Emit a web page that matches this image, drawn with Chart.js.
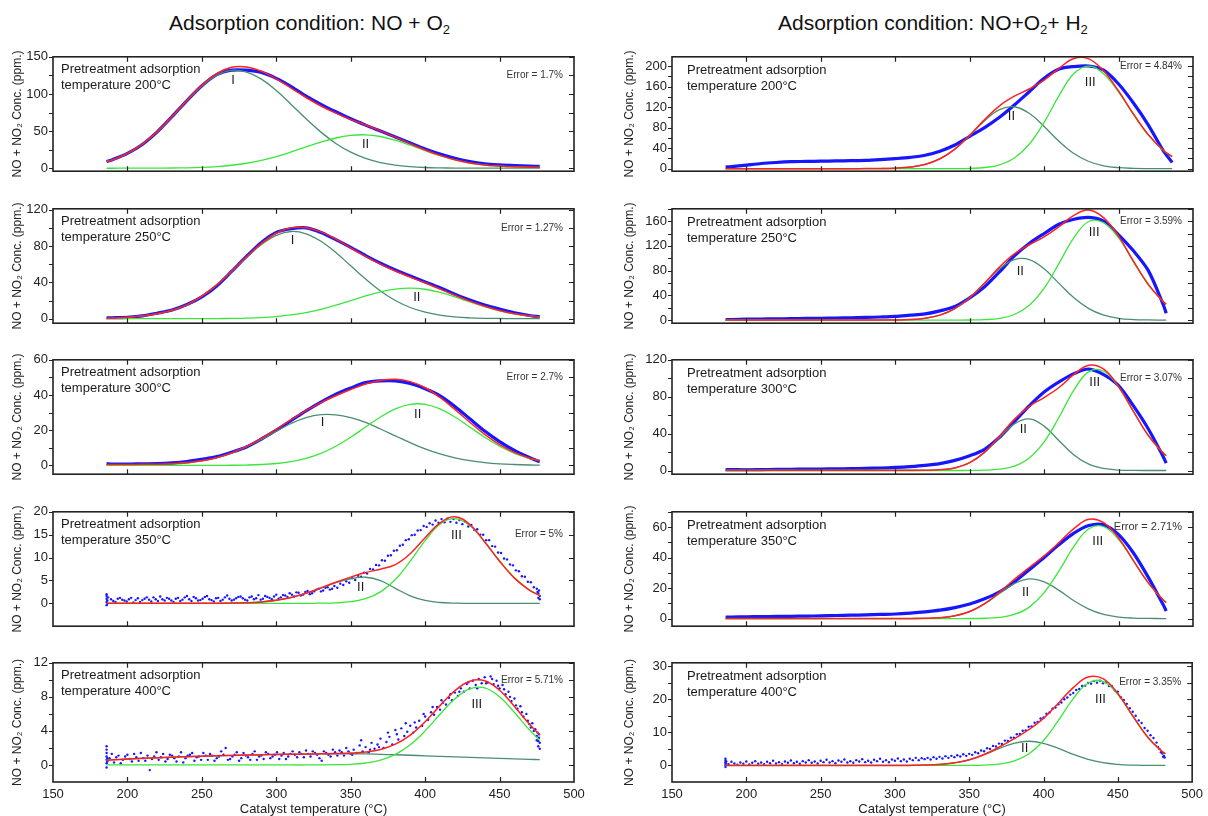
<!DOCTYPE html>
<html>
<head>
<meta charset="utf-8">
<title>NO + NO2 desorption - peak fitting</title>
<script src="https://cdn.jsdelivr.net/npm/chart.js@4.4.1/dist/chart.umd.min.js"></script>
<style>
  html, body { margin: 0; padding: 0; background: #fff; }
  body { width: 1208px; height: 816px; position: relative; overflow: hidden;
         font-family: "Liberation Sans", Arial, sans-serif; color: #111; }
  .col-title { position: absolute; top: 11px; font-size: 21px; line-height: 23px; white-space: nowrap; }
  .col-title sub { font-size: 13px; vertical-align: -4px; line-height: 0; }
  .panel { position: absolute; }
</style>
</head>
<body>
<div class="col-title" style="left:169px">Adsorption condition: NO + O<sub>2</sub></div>
<div class="col-title" style="left:778px">Adsorption condition: NO+O<sub>2</sub>+ H<sub>2</sub></div>
<script>
// temperature grids (°C)
const tempL = [186,190,200,210,220,230,240,250,260,270,280,290,300,310,320,330,340,350,360,370,380,390,400,410,420,430,440,450,460,470,477];
const tempR = [186,190,200,210,220,230,240,250,260,270,280,290,300,310,320,330,340,350,360,370,380,390,400,410,420,430,440,450,460,470,480,482];
const tempR1 = [186,190,200,210,220,230,240,250,260,270,280,290,300,310,320,330,340,350,360,370,380,390,400,410,420,430,440,450,460,470,480,486];
const xTicks = [150, 200, 250, 300, 350, 400, 450, 500];

// ---- NO + O2, 200°C
const p200L_meas = [9,11.5,20,32,49,69.5,91,111,126,132,132,129,121,110,97,86,76,66.5,58,50,42,34,26,19,13.5,9,6,4.5,3.5,2.8,2.5];
const p200L_fit = [9.0,11.3,19.9,32.5,49.3,69.6,91.4,111.8,127.4,135.8,136.2,130.5,120.2,107.8,95.2,83.8,74.1,65.7,58.2,50.3,41.8,33.1,24.6,17.3,11.3,7.0,4.3,2.9,1.9,1.3,1.1];
const p200L_I = [9.0,11.3,19.9,32.4,49.2,69.3,90.8,110.6,125.2,131.8,129.5,119.9,104.5,85.9,66.5,48.6,33.4,21.6,13.2,7.6,4.1,2.1,1.0,0.5,0.2,0.1,0.1,0.1,0.1,0.1,0.1];
const p200L_II = [0,0,0.02,0.05,0.12,0.3,0.58,1.17,2.24,4.0,6.7,10.6,15.7,21.9,28.7,35.2,40.7,44.1,45.0,42.7,37.7,31.0,23.6,16.8,11.1,6.9,4.2,2.8,1.8,1.2,1.0];

// ---- NO + O2, 250°C
const p250L_meas = [1,1,1.5,3,6,9.5,15.5,24,36,52,68.5,84,95,99,100,95,87,78.5,69.5,61,53.5,47,40.5,34,27,20.5,15,10.5,6.5,3.5,2];
const p250L_fit = [0.3,0.5,1.5,3.0,5.5,9.3,15.2,24.8,37.2,52.3,68.2,83.0,94.1,100.1,100.2,95.6,87.6,78.0,68.6,60.0,52.5,45.9,39.5,32.7,25.9,19.3,13.6,8.9,5.4,3.0,2.0];
const p250L_I = [0.3,0.5,1.5,3.0,5.5,9.3,15.2,24.7,37.1,52.0,67.6,81.7,91.8,96,93.5,85.3,72.8,58.2,43.6,30.5,20.0,12.3,7.1,3.8,1.9,0.9,0.4,0.2,0.1,0,0];
const p250L_II = [0,0,0,0,0,0,0.02,0.05,0.13,0.3,0.63,1.25,2.34,4.1,6.7,10.3,14.8,19.8,25.0,29.5,32.5,33.6,32.4,28.9,24.0,18.4,13.2,8.7,5.3,3.0,2.0];

// ---- NO + O2, 300°C
const p300L_meas = [1,0.8,0.7,0.9,1.0,1.4,2.2,3.5,5.0,7.5,10.5,15,20,25.5,31,36,40.5,44,47,48,48,46.5,43.5,39.5,33.5,26.5,19.5,13.5,8.5,4.5,2];
const p300L_fit = [0.5,0.5,0.5,0.6,0.7,1.0,1.6,2.6,4.4,7.1,10.8,15.3,20.5,26.0,31.1,35.7,39.6,43.1,46.2,48.2,48.9,47.6,44.1,38.6,31.8,24.5,17.6,11.8,7.4,4.2,2.8];
const p300L_I = [0.02,0.03,0.06,0.14,0.32,0.69,1.36,2.52,4.36,7.0,10.6,14.8,19.4,23.8,27.1,28.8,28.7,27.1,24.4,20.7,16.8,12.9,9.4,6.5,4.3,2.7,1.6,0.9,0.5,0.24,0.15];
const p300L_II = [0,0,0,0,0,0,0,0.01,0.03,0.08,0.21,0.5,1.08,2.16,4.0,6.85,10.9,16.0,21.8,27.5,32.1,34.7,34.7,32.1,27.5,21.8,16.0,10.9,6.85,4.0,2.6];

// ---- NO + O2, 350°C  (measured points: [T, ppm])
const p350L_meas = [
  [186,-0.4],[186,0.3],[186,1.0],[186,1.6],[186,2.0],[186.5,0.6],[186.5,-0.1],[187,1.3],
  [189,0.9],[192,0.3],[195,1.2],[198,0.6],[201,0.9],[204,0.2],[207,1.1],[210,0.7],[213,1.3],[216,0.4],
  [219,0.9],[222,1.5],[225,0.6],[228,1.0],[231,0.3],[234,1.2],[237,0.8],[240,1.6],[243,0.5],[246,1.1],
  [249,0.7],[252,1.4],[255,0.9],[258,0.4],[261,1.2],[264,0.8],[267,1.7],[270,0.6],[273,1.1],[276,1.5],
  [279,0.8],[282,1.3],[285,0.9],[288,1.8],[291,1.0],[294,1.4],[297,0.9],[300,1.9],[303,1.3],[306,1.7],
  [309,2.2],[312,1.5],[315,2.3],[318,1.9],[321,2.7],[324,2.2],[327,3.0],[330,2.6],[333,3.4],[336,3.0],[339,3.8],
  [190.5,0.5],[193.5,1.0],[196.5,0.8],[199.5,0.4],[202.5,1.2],[205.5,0.7],[208.5,0.3],[211.5,1.0],[214.5,0.8],
  [217.5,1.3],[220.5,0.5],[223.5,0.9],[226.5,1.2],[229.5,0.6],[232.5,1.0],[235.5,0.5],[238.5,1.3],[241.5,0.9],
  [244.5,1.4],[247.5,0.6],[250.5,1.0],[253.5,1.6],[256.5,0.7],[259.5,1.1],[262.5,0.5],[265.5,1.3],[268.5,1.0],
  [271.5,0.8],[274.5,1.4],[277.5,1.1],[280.5,0.6],[283.5,1.5],[286.5,1.1],[289.5,0.8],[292.5,1.6],[295.5,1.2],
  [298.5,1.5],[301.5,1.0],[304.5,1.8],[307.5,1.4],[310.5,1.9],[313.5,2.4],[316.5,1.7],[319.5,2.5],[322.5,2.0],
  [325.5,2.6],[328.5,3.2],[331.5,2.8],[334.5,3.5],[337.5,3.2],
  [341,3.4],[343,4.3],[345,4.0],[347,4.8],[349,4.5],[351,5.5],[353,5.1],[355,6.0],[357,5.8],[359,6.7],
  [361,6.5],[363,7.5],[365,7.4],[367,8.4],[369,8.3],[371,9.4],[373,9.3],[375,10.4],[377,10.5],[379,11.5],
  [381,11.6],[383,12.6],[385,12.8],[387,13.8],[389,14.0],[391,14.9],[393,15.0],[395,15.9],[397,16.0],[399,16.9],
  [401,16.7],[403,17.5],[405,17.2],[407,18.1],[409,17.6],[411,18.4],[413,17.7],[415,18.5],[417,17.8],[419,18.4],
  [421,17.6],[423,18.2],[425,17.3],[427,17.8],[429,16.8],[431,17.1],[433,16.0],[435,16.2],[437,15.0],[439,15.0],
  [441,13.8],[443,13.8],[445,12.5],[447,12.4],[449,11.1],[451,11.0],[453,9.8],[455,9.6],[457,8.5],[459,8.3],
  [461,7.2],[463,7.0],[465,5.9],[467,5.8],[469,4.7],[471,4.6],[473,3.5],[475,3.2],
  [476,2.2],[476,1.2],[476.5,2.8],[477,1.6],[477,0.9],[475.5,2.5]
];
const p350L_fit = [0,0,0,0,0,0,0,0,0,0.05,0.13,0.31,0.67,1.29,2.2,3.37,4.6,5.72,6.72,7.46,8.47,10.84,14.32,17.6,18.9,17.2,13.4,9.2,5.5,2.9,1.7];
const p350L_II = [0,0,0,0,0,0,0,0,0,0.05,0.13,0.31,0.67,1.29,2.2,3.34,4.5,5.37,5.7,4.96,3.27,1.64,0.62,0.18,0.04,0,0,0,0,0,0];
const p350L_III = [0,0,0,0,0,0,0,0,0,0,0,0,0,0,0,0.03,0.1,0.35,1.02,2.5,5.2,9.2,13.7,17.3,18.5,17.0,13.5,9.3,5.6,2.9,1.7];

// ---- NO + O2, 400°C
const p400L_meas = [
  [186,-0.3],[186,0.2],[186,0.6],[186,1.0],[186,1.4],[186,1.8],[186,2.2],[186.5,0.8],[186.5,0.4],
  [188,0.8],[191,0.3],[194,1.1],[197,0.6],[200,1.2],[203,0.4],[206,0.9],[209,1.4],[212,0.5],[215,-0.6],
  [218,1.0],[221,0.6],[224,1.3],[227,0.7],[230,1.1],[233,0.4],[236,1.5],[239,0.8],[242,1.2],[245,0.5],
  [248,1.0],[251,1.4],[254,0.6],[257,1.1],[260,0.8],[263,1.6],[266,2.0],[269,0.7],[272,1.2],[275,0.5],
  [278,1.4],[281,0.9],[284,1.3],[287,0.6],[290,1.1],[293,1.5],[296,0.8],[299,1.2],[302,0.7],[305,1.4],
  [308,1.0],[311,1.6],[314,0.9],[317,1.3],[320,1.7],[323,1.0],[326,1.4],[329,0.8],[332,1.6],[335,1.2],
  [338,1.8],[341,1.1],[344,1.5],[347,2.0],[350,1.3],
  [189.5,1.3],[192.5,0.9],[195.5,0.2],[198.5,1.0],[201.5,0.7],[204.5,1.3],[207.5,0.5],[210.5,0.8],
  [213.5,1.1],[216.5,0.7],[219.5,1.5],[222.5,0.9],[225.5,0.4],[228.5,1.2],[231.5,0.8],[234.5,1.0],
  [237.5,0.3],[240.5,1.1],[243.5,1.4],[246.5,0.9],[249.5,0.6],[252.5,1.1],[255.5,1.3],[258.5,0.5],
  [261.5,1.0],[264.5,1.2],[267.5,0.6],[270.5,1.0],[273.5,1.5],[276.5,0.8],[279.5,1.1],[282.5,0.6],
  [285.5,1.6],[288.5,1.0],[291.5,0.7],[294.5,1.3],[297.5,1.0],[300.5,1.5],[303.5,1.1],[306.5,0.7],
  [309.5,1.3],[312.5,1.2],[315.5,1.5],[318.5,0.9],[321.5,1.3],[324.5,1.6],[327.5,1.2],[330.5,0.5],
  [333.5,1.4],[336.5,1.0],[339.5,1.5],[342.5,1.7],[345.5,1.1],[348.5,1.6],
  [352,1.8],[354,1.4],[356,2.3],[358,1.6],[360,2.1],[362,1.5],[364,2.6],[366,1.9],[368,2.4],[370,3.1],
  [372,2.0],[374,2.7],[376,3.3],[378,2.4],[380,4.1],[382,3.0],[384,4.3],[386,3.4],[388,3.9],[390,4.6],
  [392,3.8],[394,4.4],[396,5.2],[398,4.6],[400,5.7],
  [402,5.3],[404,6.2],[406,5.9],[408,6.8],[410,6.5],[412,7.3],[414,7.1],[416,7.9],[418,7.6],[420,8.5],
  [422,8.1],[424,9.0],[426,8.6],[428,9.5],[430,9.0],[432,9.9],[434,9.4],[436,10.1],[438,9.6],[440,10.3],
  [442,9.7],[444,10.4],[446,9.5],[448,9.9],
  [450,9.0],[452,9.4],[454,8.3],[456,8.6],[458,7.5],[460,7.8],[462,6.6],[464,6.9],[466,5.7],[468,6.0],
  [470,4.8],[472,4.9],[473,4.0],[474,4.2],[475,3.4],[475.5,3.8],[476,2.8],[476,2.2],[476.5,3.2],[477,1.9],
  [477,2.6],[476.5,3.6],[475,2.9],
  [351,1.2],[357,2.9],[363,1.8],[369,2.1],[375,3.8],[381,3.6],[387,4.9],[393,5.0],[399,6.0],[405,6.8],
  [411,7.6],[417,8.3],[423,8.6],[429,9.7],[435,9.0],[441,9.6],[445,10.1],[449,9.3],[453,8.9],[457,8.0],
  [461,7.0],[465,6.2],[469,5.2],[471,4.4]
];
const p400L_fit = [0.55,0.6,0.7,0.78,0.85,0.92,0.98,1.03,1.08,1.12,1.16,1.2,1.23,1.26,1.28,1.31,1.34,1.4,1.53,1.82,2.44,3.51,5.08,6.97,8.73,9.84,9.89,8.78,6.88,4.8,3.51];
const p400L_I = [0.55,0.6,0.7,0.78,0.85,0.92,0.98,1.03,1.08,1.12,1.16,1.2,1.23,1.26,1.28,1.3,1.31,1.32,1.3,1.25,1.2,1.14,1.08,1.02,0.96,0.9,0.84,0.78,0.72,0.66,0.62];
const p400L_III = [0,0,0,0,0,0,0,0,0,0,0,0,0,0,0,0.01,0.03,0.08,0.23,0.57,1.24,2.37,4.0,5.95,7.77,8.94,9.05,8.0,6.16,4.14,2.89];

// ---- NO + O2 + H2, 200°C
const p200R_meas = [3,4,7,10,12,13.5,14,14.5,15,15.5,16,17.5,19.5,22,26,34,46,63,80,100,124,150,176,194,199,200,192,165,128,85,35,12];
const p200R_fit = [0,0,0,0,0,0,0,0,0,0,0.05,0.2,0.93,3.0,8.2,19.2,38.1,65.2,95.6,122.5,141.3,155.3,172.4,195.5,214.8,213.9,190.2,151.3,106.5,65.9,35.8,23.3];
const p200R_II = [0,0,0,0,0,0,0,0,0,0,0.05,0.2,0.93,3.0,8.2,19.2,38.0,64.6,93.4,115,120.6,107.8,82.1,53.3,29.5,13.9,5.6,1.9,0.55,0.13,0,0];
const p200R_III = [0,0,0,0,0,0,0,0,0,0,0,0,0,0,0,0,0.1,0.55,2.2,7.5,20.7,47.5,90.3,142.2,185.3,200,184.6,149.4,105.9,65.8,35.8,23.3];

// ---- NO + O2 + H2, 250°C
const p250R_meas = [1,1,1.5,1.8,2,2.4,2.7,3,3.4,3.8,4.3,5,6,8,10,15,22,36,54,78,104,124,140,155,163,166,160,138,112,80,25,11];
const p250R_fit = [0,0,0,0,0,0,0,0,0,0,0,0.05,0.24,0.92,2.96,8.0,18.5,36.2,60.1,85.7,107.0,121.9,134.6,151.1,169.5,178.0,165.4,135.9,95.2,57.6,29.9,25.7];
const p250R_II = [0,0,0,0,0,0,0,0,0,0,0,0.05,0.24,0.92,2.96,8.0,18.5,36.0,59.4,82.9,97.9,97.9,82.9,59.4,36.0,18.5,8.0,2.96,0.92,0.24,0.05,0.03];
const p250R_III = [0,0,0,0,0,0,0,0,0,0,0,0,0,0,0,0,0.03,0.15,0.72,2.8,9.1,24.0,51.7,91.7,133.5,159.5,157.4,132.9,94.3,57.4,29.8,25.7];

// ---- NO + O2 + H2, 300°C
const p300R_meas = [1,1,0.8,1,1.2,1.3,1.5,1.6,1.8,2,2.3,2.7,3.3,4.2,5.5,7.5,11,16,23,36,53,70,85,96,105,110,104,92,70,45,15,8];
const p300R_fit = [0.2,0.2,0.2,0.2,0.2,0.2,0.2,0.2,0.2,0.2,0.2,0.2,0.2,0.2,0.3,0.8,2.8,8.5,19.9,37.1,55.4,69.6,79.1,90.0,104.1,114.1,109.8,91.0,64.0,37.9,18.9,16.1];
const p300R_II = [0,0,0,0,0,0,0,0,0,0,0,0,0,0.02,0.15,0.72,2.79,8.4,19.6,35.7,50.6,56,48.1,32.3,16.9,6.9,2.2,0.5,0.1,0,0,0];
const p300R_III = [0,0,0,0,0,0,0,0,0,0,0,0,0,0,0,0,0,0.06,0.33,1.4,4.8,13.6,31.0,57.7,87.2,107.2,107.6,90.5,63.9,37.9,18.9,16.1];

// ---- NO + O2 + H2, 350°C
const p350R_meas = [1,1,1.2,1.3,1.4,1.5,1.6,1.8,2,2.2,2.4,2.7,3,3.6,4.4,5.5,7.2,9.6,13,17.5,24,32,40,48.5,56,61,61.5,55,43,27,9,5];
const p350R_fit = [0.1,0.1,0.1,0.1,0.1,0.1,0.1,0.1,0.1,0.1,0.1,0.1,0.1,0.1,0.2,0.6,1.8,4.6,9.8,17.3,25.7,33.5,41.1,49.8,59.0,65.1,62.9,52.8,38.0,23.4,12.2,10.5];
const p350R_II = [0,0,0,0,0,0,0,0,0,0,0,0,0,0.03,0.14,0.56,1.8,4.6,9.6,16.5,22.9,26,24.1,18.5,11.7,6.2,2.7,1.0,0.3,0.1,0,0];
const p350R_III = [0,0,0,0,0,0,0,0,0,0,0,0,0,0,0,0,0,0.04,0.2,0.82,2.75,7.5,17.0,31.3,47.3,58.9,60.2,51.8,37.7,23.3,12.2,10.5];

// ---- NO + O2 + H2, 400°C
const p400R_meas = [
  [186,-0.5],[186,0],[186,0.5],[186,1.0],[186,1.5],[186,2.0],[186.5,0.3],[186.5,1.2],
  [188,0.4],[190,1.1],[192,0.6],[194,0.2],[196,0.9],[198,0.5],[200,1.2],[202,0.3],[204,0.8],[206,1.3],
  [208,0.5],[210,0.9],[212,0.4],[214,1.1],[216,0.7],[218,1.4],[220,0.6],[222,1.0],[224,0.4],[226,1.2],
  [228,0.8],[230,1.5],[232,0.7],[234,1.1],[236,0.5],[238,1.3],[240,0.9],[242,1.6],[244,0.8],[246,1.2],
  [248,0.6],[250,1.4],[252,1.0],[254,1.7],[256,0.9],[258,1.3],[260,0.7],[262,1.5],[264,1.1],[266,1.8],
  [268,0.9],[270,1.3],[272,0.8],[274,1.6],[276,1.2],[278,1.9],[280,1.0],[282,1.4],[284,0.9],[286,1.7],
  [288,1.3],[290,2.0],[292,1.1],[294,1.6],[296,1.0],[298,1.8],[300,1.4],[302,2.1],[304,1.3],[306,1.8],
  [308,1.2],[310,2.0],[312,1.6],[314,2.3],[316,1.6],[318,2.2],
  [320,1.9],[322,2.3],[324,1.8],[326,2.5],[328,2.0],[330,2.6],[332,2.1],[334,2.8],[336,2.3],[338,2.9],
  [340,2.5],[342,3.1],[344,2.7],[346,3.4],[348,2.9],[350,3.5],[352,3.2],[354,4.0],[356,3.7],[358,4.5],
  [360,4.3],[362,5.2],[364,5.0],[366,5.9],[368,5.7],[370,6.6],[372,6.5],[374,7.5],[376,7.4],[378,8.4],
  [380,8.4],[382,9.4],[384,9.5],[386,10.5],[388,10.6],[390,11.7],[392,11.8],[394,12.9],[396,13.1],[398,14.2],
  [400,14.5],[402,15.6],[404,16.0],[406,17.1],[408,17.5],[410,18.5],[412,19.0],[414,20.0],[416,20.5],[418,21.4],
  [420,21.9],[422,22.8],[424,23.1],[426,24.0],[428,24.1],[430,24.9],[432,24.7],[434,25.5],[436,25.0],[438,25.6],
  [440,24.8],[442,25.1],[444,24.0],[446,23.9],[448,22.6],[450,22.3],[452,20.6],[454,19.8],[456,18.6],[458,17.3],
  [460,16.2],[462,15.0],[464,13.6],[466,12.8],[468,11.3],[470,10.5],[472,9.1],[474,8.3],[476,6.9],[477,5.6],
  [478,5.0],[479,4.0],[480,3.6],[481,2.9],[481.5,2.4],[481,3.8],[480.5,2.6]
];
const p400R_fit = [0,0,0,0,0,0,0,0,0,0,0,0,0,0.02,0.1,0.3,0.8,1.7,3.3,5.5,8.0,10.8,14.2,18.8,23.5,26.7,26.2,21.7,15.0,8.6,4.1,3.5];
const p400R_II = [0,0,0,0,0,0,0,0,0,0,0,0,0,0.02,0.09,0.28,0.76,1.71,3.23,5.08,6.67,7.3,6.69,5.16,3.34,1.82,0.83,0.32,0.1,0.03,0.01,0];
const p400R_III = [0,0,0,0,0,0,0,0,0,0,0,0,0,0,0,0,0,0.02,0.11,0.42,1.33,3.48,7.55,13.6,20.2,24.9,25.4,21.4,14.9,8.6,4.1,3.5];

const BLUE = '#1616ff', RED = '#ff2020', DARK = '#4a8e70', BRIGHT = '#3be63b';
const FONT = '"Liberation Sans", Arial, sans-serif';
const panelTops = [52, 203.5, 355, 506.5, 658];

const panels = [
  { col: 0, row: 0, t: tempL, meas: p200L_meas, fit: p200L_fit, dark: p200L_I, bright: p200L_II,
    yMin: -4, yMax: 150, yTicks: [0,25,50,75,100,125,150], yLabels: [0,50,100,150],
    temp: '200', error: 'Error = 1.7%', errorY: 125, peaks: [['I', 271, 118], ['II', 360, 32.5]] },
  { col: 0, row: 1, t: tempL, meas: p250L_meas, fit: p250L_fit, dark: p250L_I, bright: p250L_II,
    yMin: -5, yMax: 121, yTicks: [0,20,40,60,80,100,120], yLabels: [0,40,80,120],
    temp: '250', error: 'Error = 1.27%', errorY: 100, peaks: [['I', 311, 86.7], ['II', 394.4, 22.9]] },
  { col: 0, row: 2, t: tempL, meas: p300L_meas, fit: p300L_fit, dark: p300L_I, bright: p300L_II,
    yMin: -5, yMax: 60, yTicks: [0,10,20,30,40,50,60], yLabels: [0,20,40,60],
    temp: '300', error: 'Error = 2.7%', errorY: 50, peaks: [['I', 331, 24.6], ['II', 395, 29.2]] },
  { col: 0, row: 3, t: tempL, meas: p350L_meas, scatter: true, fit: p350L_fit, dark: p350L_II, bright: p350L_III,
    yMin: -5, yMax: 20, yTicks: [0,5,10,15,20], yLabels: [0,5,10,15,20],
    temp: '350', error: 'Error = 5%', errorY: 15, peaks: [['II', 356.7, 3.5], ['III', 421, 14.9]] },
  { col: 0, row: 4, t: tempL, meas: p400L_meas, scatter: true, fit: p400L_fit, dark: p400L_I, bright: p400L_III,
    yMin: -2, yMax: 12, yTicks: [0,2,4,6,8,10,12], yLabels: [0,4,8,12],
    temp: '400', error: 'Error = 5.71%', errorY: 10, peaks: [['III', 434.7, 7.1]] },
  { col: 1, row: 0, t: tempR1, meas: p200R_meas, fit: p200R_fit, dark: p200R_II, bright: p200R_III,
    yMin: -5, yMax: 218, yTicks: [0,20,40,60,80,100,120,140,160,180,200], yLabels: [0,40,80,120,160,200],
    temp: '200', error: 'Error = 4.84%', errorY: 200, peaks: [['II', 378, 102], ['III', 431, 169]] },
  { col: 1, row: 1, t: tempR, meas: p250R_meas, fit: p250R_fit, dark: p250R_II, bright: p250R_III,
    yMin: -5, yMax: 180, yTicks: [0,20,40,60,80,100,120,140,160,180], yLabels: [0,40,80,120,160],
    temp: '250', error: 'Error = 3.59%', errorY: 160, peaks: [['II', 384, 79], ['III', 433.6, 141.8]] },
  { col: 1, row: 2, t: tempR, meas: p300R_meas, fit: p300R_fit, dark: p300R_II, bright: p300R_III,
    yMin: -4, yMax: 120, yTicks: [0,20,40,60,80,100,120], yLabels: [0,40,80,120],
    temp: '300', error: 'Error = 3.07%', errorY: 100, peaks: [['II', 386, 44], ['III', 434, 95]] },
  { col: 1, row: 3, t: tempR, meas: p350R_meas, fit: p350R_fit, dark: p350R_II, bright: p350R_III,
    yMin: -5, yMax: 70, yTicks: [0,10,20,30,40,50,60,70], yLabels: [0,20,40,60],
    temp: '350', error: 'Error = 2.71%', errorY: 60, errorSize: 11, peaks: [['II', 387.5, 17.4], ['III', 436, 50.4]] },
  { col: 1, row: 4, t: tempR, meas: p400R_meas, scatter: true, fit: p400R_fit, dark: p400R_II, bright: p400R_III,
    yMin: -5, yMax: 31, yTicks: [0,5,10,15,20,25,30], yLabels: [0,10,20,30],
    temp: '400', error: 'Error = 3.35%', errorY: 25, peaks: [['II', 387.3, 5.2], ['III', 438.3, 19.9]] }
];

Chart.defaults.font.family = FONT;
Chart.defaults.color = '#222';

function pairs(t, v) {
  return t.map((x, i) => ({ x: x, y: v[i] }));
}

function curve(data, color, width) {
  return { data: data, showLine: true, borderColor: color, borderWidth: width,
           pointRadius: 0, tension: 0.4, fill: false };
}

function drawPanel(p) {
  const isBottom = p.row === 4;
  const xH = isBottom ? 36 : 0;
  const wrap = document.createElement('div');
  wrap.className = 'panel';
  wrap.style.left = (p.col === 0 ? 0 : 612) + 'px';
  wrap.style.width = (p.col === 0 ? 590 : 596) + 'px';
  wrap.style.top = (panelTops[p.row] - 8) + 'px';
  wrap.style.height = (8 + 124 + xH + (isBottom ? 0 : 8)) + 'px';
  const canvas = document.createElement('canvas');
  wrap.appendChild(canvas);
  document.body.appendChild(wrap);

  let measSet;
  if (p.scatter) {
    measSet = { data: p.meas.map(d => ({ x: d[0], y: d[1] })), showLine: false,
                pointRadius: 1.2, pointBackgroundColor: BLUE, pointBorderWidth: 0 };
  } else {
    measSet = { data: pairs(p.t, p.meas), showLine: true, borderColor: BLUE, borderWidth: 3.2,
                pointRadius: 0, tension: 0.3, fill: false };
  }

  // frame with inward ticks (outward on the left axis) + panel texts
  const framePlugin = {
    id: 'frame',
    afterDatasetsDraw(chart) {
      const { ctx, chartArea: a, scales: { x, y } } = chart;
      ctx.save();
      ctx.fillStyle = '#1a1a1a';
      ctx.font = '13px ' + FONT;
      ctx.textBaseline = 'middle';
      ctx.textAlign = 'left';
      const tx = a.left + (p.col === 0 ? 8 : 15);
      const ty = p.col === 0 ? [13, 29] : [14, 30];
      ctx.fillText('Pretreatment adsorption', tx, a.top + ty[0]);
      ctx.fillText('temperature ' + p.temp + '°C', tx, a.top + ty[1]);
      ctx.textAlign = 'center';
      p.peaks.forEach(pk => ctx.fillText(pk[0], x.getPixelForValue(pk[1]), y.getPixelForValue(pk[2])));
      ctx.font = (p.errorSize || 10) + 'px ' + FONT;
      ctx.textAlign = 'right';
      ctx.fillStyle = '#333';
      ctx.fillText(p.error, a.right - 11, y.getPixelForValue(p.errorY));
      ctx.restore();
    },
    afterDraw(chart) {
      const { ctx, chartArea: a, scales: { x, y } } = chart;
      ctx.save();
      ctx.strokeStyle = '#222';
      ctx.lineWidth = 1.6;
      ctx.strokeRect(a.left, a.top, a.right - a.left, a.bottom - a.top);
      ctx.lineWidth = 1.2;
      ctx.beginPath();
      x.ticks.forEach(t => {
        const px = Math.round(x.getPixelForValue(t.value)) + 0.5;
        if (px < a.left + 2 || px > a.right - 2) return;
        ctx.moveTo(px, a.top); ctx.lineTo(px, a.top + 5);
        ctx.moveTo(px, a.bottom); ctx.lineTo(px, a.bottom - 5);
      });
      y.ticks.forEach(t => {
        const py = Math.round(y.getPixelForValue(t.value)) + 0.5;
        ctx.moveTo(a.left - 4, py); ctx.lineTo(a.left, py);
        ctx.moveTo(a.right, py); ctx.lineTo(a.right - 5, py);
      });
      ctx.stroke();
      ctx.restore();
    }
  };

  new Chart(canvas, {
    type: 'scatter',
    data: {
      datasets: [
        curve(pairs(p.t, p.fit), RED, 1.5),
        curve(pairs(p.t, p.bright), BRIGHT, 1.3),
        curve(pairs(p.t, p.dark), DARK, 1.3),
        measSet
      ]
    },
    options: {
      responsive: true,
      maintainAspectRatio: false,
      animation: false,
      events: [],
      devicePixelRatio: 1,
      layout: { padding: { left: 0, right: p.col === 0 ? 16 : 15, top: 8, bottom: isBottom ? 0 : 8 } },
      plugins: { legend: { display: false }, tooltip: { enabled: false } },
      scales: {
        x: {
          type: 'linear', min: 150, max: 500,
          afterBuildTicks: s => { s.ticks = xTicks.map(v => ({ value: v })); },
          afterFit: s => { s.height = xH; },
          grid: { display: false, drawTicks: false }, border: { display: false },
          ticks: { display: isBottom, padding: 5, autoSkip: false, maxRotation: 0,
                   font: { size: 13 }, color: '#222' },
          title: { display: isBottom, text: 'Catalyst temperature (°C)', font: { size: 13 },
                   color: '#222', padding: { top: 0, bottom: 1 } }
        },
        y: {
          type: 'linear', min: p.yMin, max: p.yMax,
          afterBuildTicks: s => { s.ticks = p.yTicks.map(v => ({ value: v })); },
          afterFit: s => { s.width = p.col === 0 ? 53 : 60; },
          grid: { display: false, drawTicks: false }, border: { display: false },
          ticks: { padding: 5, autoSkip: false, font: { size: 13 }, color: '#222',
                   callback: v => p.yLabels.includes(v) ? String(v) : '' },
          title: { display: true, text: 'NO + NO₂ Conc. (ppm.)', font: { size: 12 },
                   color: '#222', padding: { top: 10, bottom: 0 } }
        }
      }
    },
    plugins: [framePlugin]
  });
}

panels.forEach(drawPanel);
</script>
</body>
</html>
